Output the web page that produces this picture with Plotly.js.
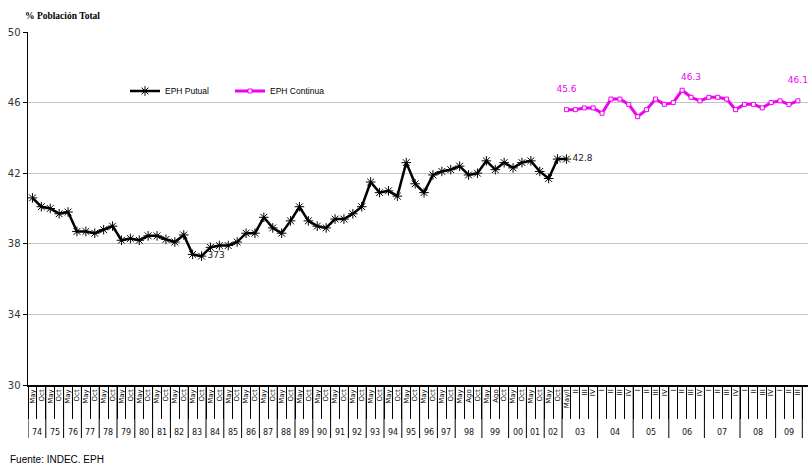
<!DOCTYPE html>
<html><head><meta charset="utf-8">
<script src="https://cdn.plot.ly/plotly-3.0.1.min.js"></script>
<style>html,body{margin:0;padding:0;background:#fff;} #chart{width:811px;height:464px;}</style>
</head><body><div id="chart"></div>
<script>
// ---- data ----
const yearLabels = ['74','75','76','77','78','79','80','81','82','83','84','85','86','87','88','89','90','91','92','93','94','95','96','97','98','99','00','01','02','03','04','05','06','07','08','09'];
const sem = ['May','Oct'];
const sem3 = ['May','Ago','Oct'];
const q03 = ['May/I','II','III','IV'];
const quarters = ['I','II','III','IV'];
const q09 = ['I','II','III'];
const yearPeriods = [sem,sem,sem,sem,sem,sem,sem,sem,sem,sem,sem,sem,sem,sem,sem,sem,sem,sem,sem,sem,sem,sem,sem,sem,
  sem3,sem3,sem,sem,sem,q03,quarters,quarters,quarters,quarters,quarters,q09];

const puntualValues = [40.6,40.1,40.0,39.7,39.8,38.7,38.7,38.6,38.8,39.0,38.2,38.3,38.2,38.45,38.45,38.25,38.1,38.5,37.4,37.3,
  37.8,37.9,37.9,38.1,38.6,38.6,39.5,38.9,38.6,39.3,40.1,39.3,39.0,38.9,39.4,39.4,39.7,40.1,41.5,40.9,
  41.0,40.7,42.6,41.4,40.9,41.9,42.1,42.2,42.4,41.9,42.0,42.7,42.2,42.6,42.3,42.6,42.7,42.1,41.7,42.8,42.8];
const puntualLabelIdx = [19, 60];
const puntualLabelTxt = ['373', '42.8'];

const continuaStart = 60;
const continuaValues = [45.6,45.6,45.7,45.7,45.4,46.2,46.2,45.9,45.2,45.6,46.2,45.9,46.0,46.7,46.3,46.1,46.3,46.3,46.2,45.6,
  45.9,45.9,45.7,46.0,46.1,45.9,46.1];
const continuaLabelIdx = [0, 14, 26];
const continuaLabelTxt = ['45.6', '46.3', '46.1'];

const yTicks = [30,34,38,42,46,50];

// ---- derived ----
const periodLabels = [].concat(...yearPeriods);
const nCat = periodLabels.length;
const catIdx = periodLabels.map((_, i) => i);
const boundaries = [];
for (let i = 0; i <= nCat; i++) boundaries.push(i - 0.5);
const yearBounds = [-0.5];
const yearCenters = [];
{
  let b = -0.5;
  yearPeriods.forEach(p => { yearCenters.push(b + p.length / 2); b += p.length; yearBounds.push(b); });
}
const mkText = (n, idx, txt, suffix) => { const t = new Array(n).fill(''); idx.forEach((k, j) => t[k] = txt[j] + (suffix || '')); return t; };

const plotTop = 32, plotBottom = 79, H = 464;
const plotH = H - plotTop - plotBottom;
const MAG = '#f000f0';

const traces = [
  {
    name: 'EPH Putual', type: 'scatter', mode: 'lines+markers+text',
    x: puntualValues.map((_, i) => i), y: puntualValues,
    line: {color: '#000', width: 2.5},
    marker: {symbol: 'asterisk-open', size: 8, color: '#000', line: {color: '#000', width: 1}},
    text: mkText(puntualValues.length, puntualLabelIdx, puntualLabelTxt),
    textposition: 'middle right',
    textfont: {family: 'DejaVu Sans', size: 9, color: '#222'}
  },
  {
    name: 'EPH Continua', type: 'scatter', mode: 'lines+markers+text',
    x: continuaValues.map((_, i) => i + continuaStart), y: continuaValues,
    line: {color: MAG, width: 3},
    marker: {symbol: 'square', size: 4, color: '#fff', line: {color: MAG, width: 1}},
    text: mkText(continuaValues.length, continuaLabelIdx, continuaLabelTxt, '<br> '),
    textposition: 'top center',
    textfont: {family: 'DejaVu Sans', size: 9, color: MAG}
  }
];

const shapes = yearBounds.map(b => ({
  type: 'line', xref: 'x', yref: 'paper', x0: b, x1: b, y0: 0, y1: -53 / plotH,
  line: {color: '#000', width: 1}
}));

const annotations = yearCenters.map((c, i) => ({
  xref: 'x', yref: 'paper', x: c, y: -47 / plotH, text: yearLabels[i], showarrow: false,
  xanchor: 'center', yanchor: 'middle', font: {family: 'DejaVu Sans', size: 8, color: '#111'}
}));
annotations.push({
  xref: 'paper', yref: 'paper', x: -20 / 780, y: -(459 - (H - plotBottom)) / plotH,
  text: 'Fuente: INDEC. EPH', showarrow: false, xanchor: 'left', yanchor: 'middle',
  font: {family: 'Liberation Sans', size: 10, color: '#000'}
});

const layout = {
  width: 811, height: 464,
  margin: {l: 28, r: 3, t: plotTop, b: plotBottom},
  paper_bgcolor: '#fff', plot_bgcolor: '#fff',
  showlegend: true,
  title: {text: '% Población Total', xref: 'container', yref: 'container', x: 25 / 811, xanchor: 'left',
    y: 1 - 16 / H, yanchor: 'middle', font: {family: 'Liberation Serif', size: 9.5, color: '#000', weight: 'bold'}},
  legend: {orientation: 'h', x: 97 / 780, y: (H - plotBottom - 91) / plotH, xanchor: 'left', yanchor: 'middle',
    bgcolor: 'rgba(0,0,0,0)', font: {family: 'Liberation Sans', size: 8.5, color: '#000'}, entrywidth: 60},
  xaxis: {
    range: [-0.5, -0.5 + 780 / 8.9], showgrid: false, zeroline: false,
    showline: true, linecolor: '#000', linewidth: 1.5,
    tickmode: 'array', tickvals: catIdx, ticktext: periodLabels, tickangle: -90,
    ticks: '', tickfont: {family: 'DejaVu Sans', size: 7, color: '#000'},
    minor: {tickmode: 'array', tickvals: boundaries, ticks: 'outside', ticklen: 32, tickcolor: '#000', tickwidth: 1, showgrid: false}
  },
  yaxis: {
    range: [30, 50], tickmode: 'array', tickvals: yTicks, ticktext: yTicks.map(String),
    showgrid: true, gridcolor: '#c4c4c4', gridwidth: 1, zeroline: false,
    showline: true, linecolor: '#000', linewidth: 1.5,
    ticks: 'outside', ticklen: 4, tickcolor: '#000',
    tickfont: {family: 'DejaVu Sans', size: 10, color: '#333'}
  },
  shapes: shapes,
  annotations: annotations,
  hovermode: false
};

Plotly.newPlot('chart', traces, layout, {staticPlot: true, displayModeBar: false});
</script>
</body></html>
